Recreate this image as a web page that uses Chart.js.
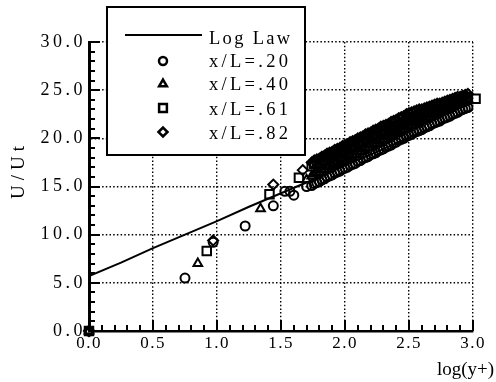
<!DOCTYPE html>
<html>
<head>
<meta charset="utf-8">
<script src="https://cdn.jsdelivr.net/npm/chart.js@4.4.1/dist/chart.umd.min.js"></script>
<style>
  html, body { margin: 0; padding: 0; background: #fff; }
</style>
</head>
<body>
<canvas id="chart" width="496" height="382"></canvas>
<script>
// labels
const xTitle = "log(y+)";
const yTitle = "U/Ut";
const lineLabel = "Log Law";
const seriesLabels = ["x/L=.20", "x/L=.40", "x/L=.61", "x/L=.82"];

// axis ticks
const xTickValues = [0, 0.5, 1.0, 1.5, 2.0, 2.5, 3.0];
const yTickValues = [0, 5, 10, 15, 20, 25, 30];

// log law line
const logLawX = [0, 0.25, 0.5, 0.75, 1.0, 1.25, 1.5, 1.75, 2.0, 2.25, 2.5, 2.75, 3.0];
const logLawY = [5.7, 7.1, 8.6, 10.0, 11.4, 12.9, 14.3, 15.7, 17.2, 18.6, 20.1, 21.5, 23.0];

// dense part of the profiles, shared x positions
const cloudX = [1.74, 1.76, 1.78, 1.80, 1.82, 1.84, 1.86, 1.88, 1.90, 1.92, 1.94,
  1.96, 1.98, 2.00, 2.02, 2.04, 2.06, 2.08, 2.10, 2.12, 2.14, 2.16, 2.18, 2.20,
  2.22, 2.24, 2.26, 2.28, 2.30, 2.32, 2.34, 2.36, 2.38, 2.40, 2.42, 2.44, 2.46,
  2.48, 2.50, 2.52, 2.54, 2.56, 2.58, 2.60, 2.62, 2.64, 2.66, 2.68, 2.70, 2.72,
  2.74, 2.76, 2.78, 2.80, 2.82, 2.84, 2.86, 2.88, 2.90, 2.92, 2.94, 2.96];

const s20X = [0, 0.75, 0.97, 1.22, 1.44, 1.53, 1.57, 1.60, 1.70].concat(cloudX);
const s20Y = [0, 5.5, 9.2, 10.9, 13.0, 14.5, 14.5, 14.1, 15.0,
  15.1, 15.3, 15.4, 15.5, 15.7, 15.8, 16.0, 16.1, 16.2, 16.4, 16.5, 16.6, 16.8,
  16.9, 17.0, 17.2, 17.3, 17.4, 17.6, 17.7, 17.9, 18.0, 18.1, 18.3, 18.4, 18.5,
  18.7, 18.8, 18.9, 19.1, 19.2, 19.3, 19.5, 19.6, 19.8, 19.9, 20.0, 20.2, 20.3,
  20.4, 20.6, 20.7, 20.8, 20.9, 21.1, 21.2, 21.3, 21.5, 21.6, 21.7, 21.8, 22.0,
  22.1, 22.2, 22.3, 22.5, 22.6, 22.7, 22.9, 23.0, 23.1, 23.2];

const s40X = [0, 0.85, 1.34, 1.70].concat(cloudX);
const s40Y = [0, 7.0, 12.7, 15.7,
  16.1, 16.3, 16.4, 16.5, 16.7, 16.8, 17.0, 17.1, 17.2, 17.4, 17.5, 17.6, 17.8,
  17.9, 18.0, 18.2, 18.3, 18.4, 18.6, 18.7, 18.9, 19.0, 19.1, 19.3, 19.4, 19.5,
  19.7, 19.8, 19.9, 20.1, 20.2, 20.3, 20.5, 20.6, 20.8, 20.9, 21.0, 21.2, 21.3,
  21.4, 21.6, 21.7, 21.8, 21.9, 22.0, 22.1, 22.2, 22.4, 22.5, 22.6, 22.7, 22.8,
  22.9, 23.0, 23.1, 23.3, 23.4, 23.5, 23.6, 23.7, 23.8, 23.9];

const s61X = [0, 0.92, 1.41, 1.64].concat(cloudX, [3.02]);
const s61Y = [0, 8.3, 14.2, 15.9,
  17.1, 17.3, 17.4, 17.5, 17.7, 17.8, 18.0, 18.1, 18.2, 18.4, 18.5, 18.6, 18.8,
  18.9, 19.0, 19.1, 19.2, 19.3, 19.5, 19.6, 19.7, 19.9, 20.0, 20.1, 20.2, 20.3,
  20.5, 20.6, 20.7, 20.9, 21.0, 21.1, 21.2, 21.3, 21.5, 21.6, 21.7, 21.9, 22.0,
  22.1, 22.2, 22.3, 22.4, 22.5, 22.6, 22.7, 22.8, 22.9, 23.0, 23.1, 23.1, 23.3,
  23.4, 23.4, 23.5, 23.7, 23.8, 23.9, 24.0, 24.1, 24.2, 24.3, 24.1];

const s82X = [0, 0.97, 1.44, 1.67].concat(cloudX);
const s82Y = [0, 9.4, 15.2, 16.7,
  17.5, 17.7, 17.8, 17.9, 18.1, 18.2, 18.4, 18.5, 18.6, 18.8, 18.9, 19.0, 19.2,
  19.3, 19.4, 19.6, 19.7, 19.8, 20.0, 20.1, 20.2, 20.4, 20.5, 20.6, 20.8, 20.9,
  21.0, 21.2, 21.3, 21.4, 21.5, 21.7, 21.8, 21.9, 22.1, 22.2, 22.3, 22.5, 22.6,
  22.7, 22.8, 22.9, 23.0, 23.0, 23.1, 23.2, 23.3, 23.4, 23.5, 23.6, 23.6, 23.7,
  23.8, 23.9, 24.0, 24.1, 24.2, 24.3, 24.3, 24.4, 24.5, 24.6];

function pairs(xs, ys) {
  return xs.map((x, i) => ({ x: x, y: ys[i] }));
}

const FONT = "'Liberation Serif', 'Times New Roman', serif";

function markerSet(label, xs, ys, style, radius) {
  return {
    label: label,
    data: pairs(xs, ys),
    pointStyle: style,
    pointRadius: radius,
    pointBorderWidth: 2,
    pointBorderColor: "#000",
    pointBackgroundColor: "rgba(255,255,255,0)",
    showLine: false,
    clip: false,
  };
}

const datasets = [
  {
    type: "line",
    label: lineLabel,
    data: pairs(logLawX, logLawY),
    borderColor: "#000",
    borderWidth: 2,
    pointRadius: 0,
    tension: 0,
    fill: false,
  },
  markerSet(seriesLabels[0], s20X, s20Y, "circle", 4.5),
  markerSet(seriesLabels[1], s40X, s40Y, "triangle", 5),
  markerSet(seriesLabels[2], s61X, s61Y, "rect", 6),
  markerSet(seriesLabels[3], s82X, s82Y, "rectRot", 5),
];

// letter spacing: wide y labels, a little on the rest
const spacing = {
  id: "spacing",
  beforeDraw(chart) {
    chart.ctx.letterSpacing = "1.5px";
    const ys = chart.scales.y;
    if (!ys._wide) {
      const orig = ys.drawLabels;
      ys.drawLabels = function (area) {
        const prev = this.ctx.letterSpacing;
        this.ctx.letterSpacing = "3.5px";
        orig.call(this, area);
        this.ctx.letterSpacing = prev;
      };
      ys._wide = true;
    }
  },
};

// inward ticks, major and minor
const inTicks = {
  id: "inTicks",
  afterDraw(chart) {
    const ctx = chart.ctx;
    const xs = chart.scales.x;
    const ys = chart.scales.y;
    const area = chart.chartArea;
    ctx.save();
    ctx.strokeStyle = "#000";
    ctx.lineWidth = 2;
    for (let i = 1; i <= 30; i++) {
      const px = Math.round(xs.getPixelForValue(i / 10));
      const len = i % 5 === 0 ? 11 : 6;
      ctx.beginPath();
      ctx.moveTo(px, area.bottom);
      ctx.lineTo(px, area.bottom - len);
      ctx.stroke();
    }
    for (let i = 1; i <= 30; i++) {
      const py = Math.round(ys.getPixelForValue(i));
      const len = i % 5 === 0 ? 11 : 6;
      ctx.beginPath();
      ctx.moveTo(area.left, py);
      ctx.lineTo(area.left + len, py);
      ctx.stroke();
    }
    ctx.restore();
  },
};

// axis titles and boxed legend
const decor = {
  id: "decor",
  afterDraw(chart) {
    const ctx = chart.ctx;
    ctx.save();
    ctx.fillStyle = "#000";
    ctx.font = "19px " + FONT;

    ctx.letterSpacing = "5px";
    ctx.save();
    ctx.translate(24, 170);
    ctx.rotate(-Math.PI / 2);
    ctx.textAlign = "center";
    ctx.textBaseline = "alphabetic";
    ctx.fillText(yTitle, 0, 0);
    ctx.restore();

    ctx.letterSpacing = "0px";
    ctx.textAlign = "left";
    ctx.fillText(xTitle, 437, 375);

    // legend box
    ctx.fillStyle = "#fff";
    ctx.fillRect(107, 7, 198, 148);
    ctx.strokeStyle = "#000";
    ctx.lineWidth = 2;
    ctx.strokeRect(107, 7, 198, 148);

    ctx.beginPath();
    ctx.moveTo(125, 35);
    ctx.lineTo(202, 35);
    ctx.stroke();

    ctx.fillStyle = "#000";
    ctx.font = "18.5px " + FONT;
    ctx.letterSpacing = "2.3px";
    ctx.fillText(lineLabel, 209, 44);

    ctx.letterSpacing = "3.3px";
    const rowMarkY = [61, 84, 108, 132];
    const rowTextY = [67, 90, 115, 139];
    for (let i = 0; i < 4; i++) {
      const ds = chart.data.datasets[i + 1];
      ctx.fillStyle = "#fff";
      ctx.strokeStyle = "#000";
      ctx.lineWidth = 2.5;
      Chart.helpers.drawPoint(ctx, {
        pointStyle: ds.pointStyle,
        radius: ds.pointRadius - 0.5,
        borderWidth: 2.5,
        rotation: 0,
      }, 163, rowMarkY[i]);
      ctx.fillStyle = "#000";
      ctx.fillText(seriesLabels[i], 209, rowTextY[i]);
    }
    ctx.restore();
  },
};

new Chart(document.getElementById("chart"), {
  type: "scatter",
  data: { datasets: datasets },
  options: {
    responsive: false,
    animation: false,
    layout: { padding: { left: 0, top: 42, right: 23, bottom: 0 } },
    plugins: { legend: { display: false }, tooltip: { enabled: false } },
    scales: {
      x: {
        type: "linear",
        min: 0,
        max: 3,
        afterBuildTicks: (s) => { s.ticks = xTickValues.map((v) => ({ value: v })); },
        afterFit: (s) => { s.height = 51; },
        ticks: {
          color: "#000",
          padding: 2,
          font: { family: FONT, size: 17 },
          callback: (v) => Number(v).toFixed(1),
        },
        grid: {
          drawTicks: false,
          lineWidth: 1.4,
          color: (c) => (c.tick && c.tick.value === 0 ? "rgba(0,0,0,0)" : "#000"),
        },
        border: { display: true, color: "#000", width: 2.5, dash: [1.5, 2.2] },
      },
      y: {
        type: "linear",
        min: 0,
        max: 30,
        afterBuildTicks: (s) => { s.ticks = yTickValues.map((v) => ({ value: v })); },
        afterFit: (s) => { s.width = 89; },
        ticks: {
          color: "#000",
          padding: 3,
          font: { family: FONT, size: 18 },
          callback: (v) => Number(v).toFixed(1),
        },
        grid: {
          drawTicks: false,
          lineWidth: 1.4,
          color: (c) => (c.tick && c.tick.value === 0 ? "rgba(0,0,0,0)" : "#000"),
        },
        border: { display: true, color: "#000", width: 3, dash: [1.5, 2.2] },
      },
    },
  },
  plugins: [spacing, inTicks, decor],
});
</script>
</body>
</html>
